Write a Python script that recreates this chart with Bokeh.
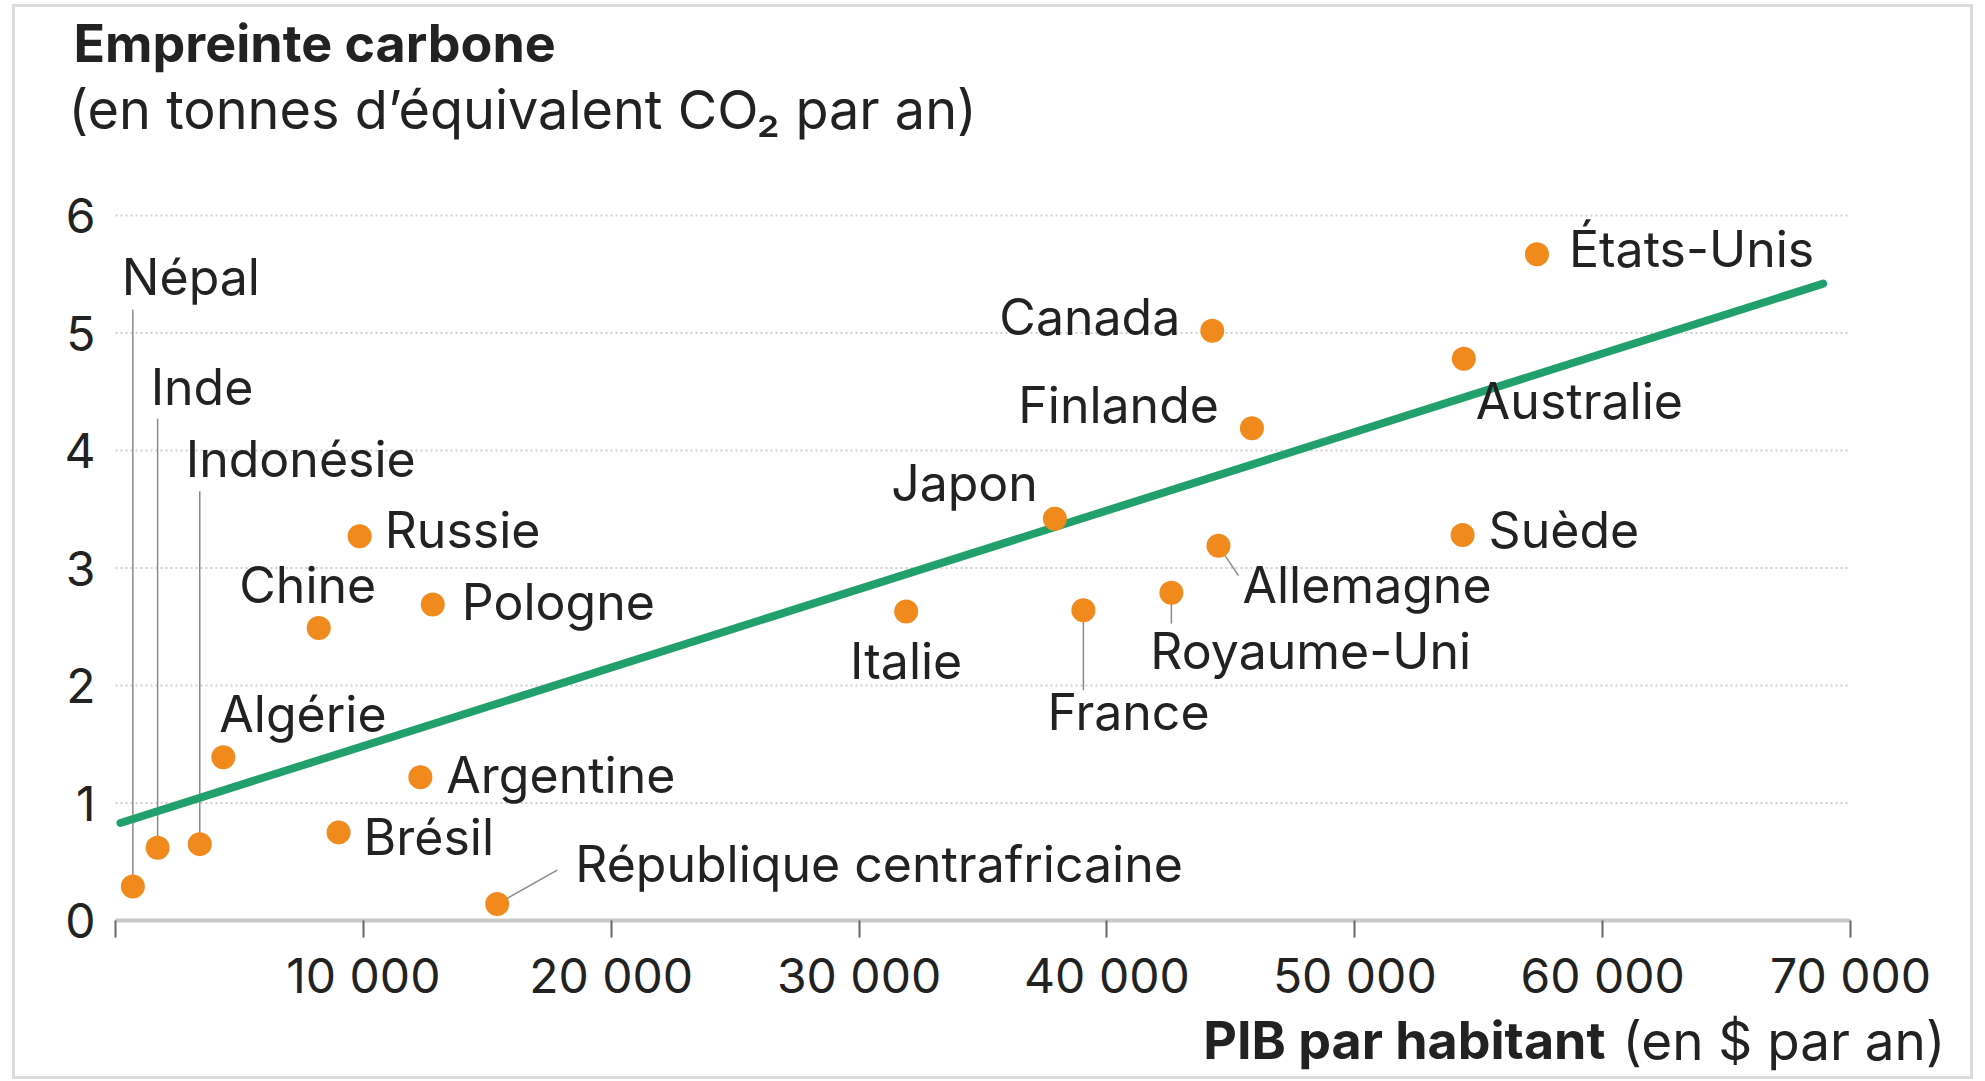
from bokeh.plotting import figure
from bokeh.models import Label, FixedTicker, Range1d
from bokeh.embed import file_html
from bokeh.resources import INLINE

# ---------------- data ----------------
countries = ["Népal", "Inde", "Indonésie", "Algérie", "Chine", "Russie", "Pologne",
             "Argentine", "Brésil", "République centrafricaine", "Italie", "Japon",
             "France", "Royaume-Uni", "Allemagne", "Canada", "Finlande", "Australie",
             "Suède", "États-Unis"]
gdp = [700, 1700, 3400, 4350, 8200, 9850, 12800,
       12300, 9000, 15400, 31900, 37900,
       39050, 42600, 44500, 44250, 45850, 54400,
       54350, 57350]
footprint = [0.29, 0.62, 0.65, 1.39, 2.49, 3.27, 2.69,
             1.22, 0.75, 0.14, 2.63, 3.42,
             2.64, 2.79, 3.19, 5.02, 4.19, 4.78,
             3.28, 5.67]
trend_x = [200, 68900]
trend_y = [0.83, 5.42]
x_ticks = [0, 10000, 20000, 30000, 40000, 50000, 60000, 70000]
x_tick_labels = ["", "10 000", "20 000", "30 000", "40 000", "50 000", "60 000", "70 000"]
y_ticks = [0, 1, 2, 3, 4, 5, 6]
y_tick_labels = ["0", "1", "2", "3", "4", "5", "6"]

title_text = "Empreinte carbone"
subtitle_text = "(en tonnes d’équivalent CO₂ par an)"
xtitle_bold = "PIB par habitant"
xtitle_regular = "(en $ par an)"

# ---------------- layout / style ----------------
W, H = 1961, 1075
# canvas pixel positions of the first/last ticks
FRAME_L, FRAME_R, FRAME_T, FRAME_B = 100, 1835, 208, 913
FONT = "Inter"
TXT = "#222222"
FS = "50px"
TICK_FS = "48px"
ORANGE = "#F08A1C"
GREEN = "#22A06B"

# label placement (alignment, dx px, dy px; dy positive = downward)
label_place = {
    "Népal": ("left", -11, -609),
    "Inde": ("left", -7, -461),
    "Indonésie": ("left", -14, -385),
    "Algérie": ("left", -4, -43),
    "Chine": ("center", -11, -43),
    "Russie": ("left", 25, -6),
    "Pologne": ("left", 29, -2),
    "Argentine": ("left", 26, -2),
    "Brésil": ("left", 25, 5),
    "République centrafricaine": ("left", 78, -40),
    "Italie": ("center", 0, 50),
    "Japon": ("right", -17, -36),
    "France": ("left", -36, 102),
    "Royaume-Uni": ("left", -21, 58),
    "Allemagne": ("left", 24, 39),
    "Canada": ("right", -32, -14),
    "Finlande": ("right", -33, -23),
    "Australie": ("left", 12, 42),
    "Suède": ("left", 26, -5),
    "États-Unis": ("left", 32, -5),
}
# leader line end points relative to the dot (px, dy positive = downward)
leaders = {
    "Népal": (0, -577),
    "Inde": (0, -429),
    "Indonésie": (0, -353),
    "République centrafricaine": (60, -34),
    "Allemagne": (20, 30),
    "Royaume-Uni": (0, 31),
    "France": (0, 80),
}

# ranges so that the ticks land on the wanted canvas pixels
ux = (x_ticks[-1] - x_ticks[0]) / (FRAME_R - FRAME_L)
uy = (y_ticks[-1] - y_ticks[0]) / (FRAME_B - FRAME_T)
x_start = x_ticks[0] - FRAME_L * ux
x_end = x_ticks[-1] + (W - FRAME_R) * ux
y_start = y_ticks[0] - (H - FRAME_B) * uy
y_end = y_ticks[-1] + FRAME_T * uy


def cx(px):
    return x_start + px * ux


def cy(py):
    return y_end - py * uy


p = figure(width=W, height=H, x_range=Range1d(x_start, x_end), y_range=Range1d(y_start, y_end),
           output_backend="svg", toolbar_location=None,
           min_border_left=0, min_border_right=0, min_border_top=0, min_border_bottom=0)
p.styles = {"border": "3px solid #dcdcdc", "margin-left": "12px", "margin-top": "4px"}
p.outline_line_color = None
p.background_fill_color = "white"
p.border_fill_color = "white"
p.grid.visible = False

# horizontal dotted grid lines, spanning the x axis extent
gy = [t for t in y_ticks if t != 0]
p.segment(x0=[x_ticks[0]] * len(gy), y0=gy, x1=[x_ticks[-1]] * len(gy), y1=gy,
          line_color="#cfcfcf", line_width=2, line_dash="2 3")

# x axis
xa = p.xaxis[0]
xa.fixed_location = 0
xa.bounds = (x_ticks[0], x_ticks[-1])
xa.ticker = FixedTicker(ticks=x_ticks)
xa.major_label_overrides = {t: l for t, l in zip(x_ticks, x_tick_labels)}
xa.axis_line_color = "#c9c9c9"
xa.axis_line_width = 4
xa.major_tick_line_color = "#666666"
xa.major_tick_line_width = 2
xa.major_tick_out = 17
xa.major_tick_in = 0
xa.minor_tick_line_color = None
xa.major_label_text_font = FONT
xa.major_label_text_font_size = TICK_FS
xa.major_label_text_color = TXT
xa.major_label_standoff = 8

# y axis
ya = p.yaxis[0]
ya.fixed_location = 0
ya.bounds = (y_ticks[0], y_ticks[-1])
ya.ticker = FixedTicker(ticks=y_ticks)
ya.major_label_overrides = {t: l for t, l in zip(y_ticks, y_tick_labels)}
ya.axis_line_color = None
ya.major_tick_line_color = None
ya.minor_tick_line_color = None
ya.major_tick_out = 0
ya.major_tick_in = 0
ya.major_label_text_font = FONT
ya.major_label_text_font_size = TICK_FS
ya.major_label_text_color = TXT
ya.major_label_standoff = 20

# leader lines
lx0, ly0, lx1, ly1 = [], [], [], []
for c, gx, fy in zip(countries, gdp, footprint):
    if c in leaders:
        dx, dy = leaders[c]
        lx0.append(gx); ly0.append(fy)
        lx1.append(gx + dx * ux); ly1.append(fy - dy * uy)
p.segment(x0=lx0, y0=ly0, x1=lx1, y1=ly1, line_color="#8a8a8a", line_width=1.5)

# trend line
p.line(trend_x, trend_y, line_color=GREEN, line_width=8, line_cap="round")

# points
p.scatter(gdp, footprint, size=24, fill_color=ORANGE, line_color=None)

# point labels
for c, gx, fy in zip(countries, gdp, footprint):
    align, dx, dy = label_place[c]
    p.add_layout(Label(x=gx, y=fy, x_offset=dx, y_offset=-dy, text=c,
                       text_font=FONT, text_font_size=FS, text_color=TXT,
                       text_align=align, text_baseline="alphabetic"))

# titles
p.add_layout(Label(x=cx(58), y=cy(36), text=title_text,
                   text_font=FONT, text_font_size="52px", text_font_style="bold",
                   text_color=TXT, text_baseline="alphabetic"))
p.add_layout(Label(x=cx(53), y=cy(102), text=subtitle_text,
                   text_font=FONT, text_font_size="54px",
                   text_color=TXT, text_baseline="alphabetic"))
p.add_layout(Label(x=cx(1590), y=cy(1033), text=xtitle_bold,
                   text_font=FONT, text_font_size="52px", text_font_style="bold",
                   text_color=TXT, text_align="right", text_baseline="alphabetic"))
p.add_layout(Label(x=cx(1607), y=cy(1033), text=xtitle_regular,
                   text_font=FONT, text_font_size="53px",
                   text_color=TXT, text_align="left", text_baseline="alphabetic"))

open("out.html", "w").write(file_html(p, INLINE))
